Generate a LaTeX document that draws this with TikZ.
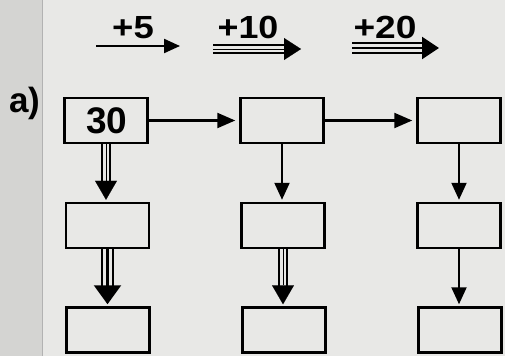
\documentclass[tikz,border=0pt]{standalone}
\usepackage{fontspec}
\setmainfont{Liberation Sans}
\usepackage{graphicx}
\usetikzlibrary{arrows.meta}
\definecolor{paper}{RGB}{232,232,230}
\definecolor{strip}{RGB}{212,212,210}
\begin{document}
\begin{tikzpicture}[x=1pt,y=1pt,
  box/.style={draw, line width=2.5pt, minimum width=83pt, minimum height=45pt, inner sep=0pt},
  shaft/.style={line width=2.2pt},
  one/.style={line width=2.2pt, -{Triangle[width=15pt,length=17pt]}, shorten >=2pt},
  headtwo/.style={line width=0.1pt, -{Triangle[width=22pt,length=19pt]}, shorten >=2pt},
  headthree/.style={line width=2.2pt, -{Triangle[width=27pt,length=19pt]}, shorten >=2pt},
  sidev/.style={line width=2.2pt, shorten >=17pt},
  lbl/.style={font=\bfseries\fontsize{32}{32}\selectfont, inner sep=0pt, anchor=base}
]
\useasboundingbox (0,0) rectangle (505,-356);
\fill[paper] (0,0) rectangle (505,-356);
\fill[strip] (0,0) rectangle (42,-356);
\draw[gray!60, line width=1pt] (42,0) -- (42,-356);

% legend
\coordinate (s5) at (96,-46);   \coordinate (e5) at (180,-46);
\coordinate (s10) at (213,-49); \coordinate (e10) at (301,-49);
\coordinate (s20) at (352,-48); \coordinate (e20) at (439,-48);
\node[lbl] (t5) at (133,-38) {\scalebox{1.14}[1]{+5}};
\node[lbl] (t10) at (248,-38) {\scalebox{1.12}[1]{+10}};
\node[lbl] (t20) at (385,-38) {\scalebox{1.16}[1]{+20}};
\draw[line width=2.2pt, -{Triangle[width=14pt,length=16pt]}] (s5) -- (e5);
\draw[line width=0.1pt, -{Triangle[width=22pt,length=17pt]}] (s10) -- (e10);
\draw[shaft, shorten >=15pt] ([yshift=4pt]s10) -- ([yshift=4pt]e10);
\draw[shaft, shorten >=15pt] ([yshift=-4pt]s10) -- ([yshift=-4pt]e10);
\draw[line width=2.2pt, -{Triangle[width=22pt,length=17pt]}] (s20) -- (e20);
\draw[shaft, shorten >=15pt] ([yshift=5.2pt]s20) -- ([yshift=5.2pt]e20);
\draw[shaft, shorten >=15pt] ([yshift=-5.2pt]s20) -- ([yshift=-5.2pt]e20);

\node[font=\bfseries\fontsize{35}{35}\selectfont, inner sep=0pt, anchor=base west] (a) at (9,-112) {a)};

% boxes
\node[box, font=\bfseries\fontsize{37}{37}\selectfont] (A1) at (106,-120.5) {\hspace*{2pt}30};
\node[box] (B1) at (282,-120.5) {};
\node[box] (C1) at (459,-120.5) {};
\node[box] (A2) at (107.5,-225.5) {};
\node[box] (B2) at (283,-225.5) {};
\node[box] (C2) at (459,-225.5) {};
\node[box] (A3) at (108,-330) {};
\node[box] (B3) at (284,-330) {};
\node[box] (C3) at (460,-330) {};

% horizontal arrows
\draw[line width=2.2pt, -{Triangle[width=15pt,length=18pt]}, shorten >=4pt] (A1.east) -- (B1.west);
\draw[line width=2.2pt, -{Triangle[width=15pt,length=18pt]}, shorten >=4pt] (B1.east) -- (C1.west);

% column 1
\draw[headtwo] (A1.south) -- (A1.south |- A2.north);
\draw[sidev] ([xshift=-4.2pt]A1.south) -- ([xshift=-4.2pt]A1.south |- A2.north);
\draw[sidev] ([xshift=4.2pt]A1.south) -- ([xshift=4.2pt]A1.south |- A2.north);
\draw[headthree] (A2.south) -- (A2.south |- A3.north);
\draw[sidev] ([xshift=-5.6pt]A2.south) -- ([xshift=-5.6pt]A2.south |- A3.north);
\draw[sidev] ([xshift=5.6pt]A2.south) -- ([xshift=5.6pt]A2.south |- A3.north);

% column 2
\draw[one] (B1.south) -- (B1.south |- B2.north);
\draw[headtwo] (B2.south) -- (B2.south |- B3.north);
\draw[sidev] ([xshift=-4.2pt]B2.south) -- ([xshift=-4.2pt]B2.south |- B3.north);
\draw[sidev] ([xshift=4.2pt]B2.south) -- ([xshift=4.2pt]B2.south |- B3.north);

% column 3
\draw[one] (C1.south) -- (C1.south |- C2.north);
\draw[one] (C2.south) -- (C2.south |- C3.north);
\end{tikzpicture}
\end{document}
